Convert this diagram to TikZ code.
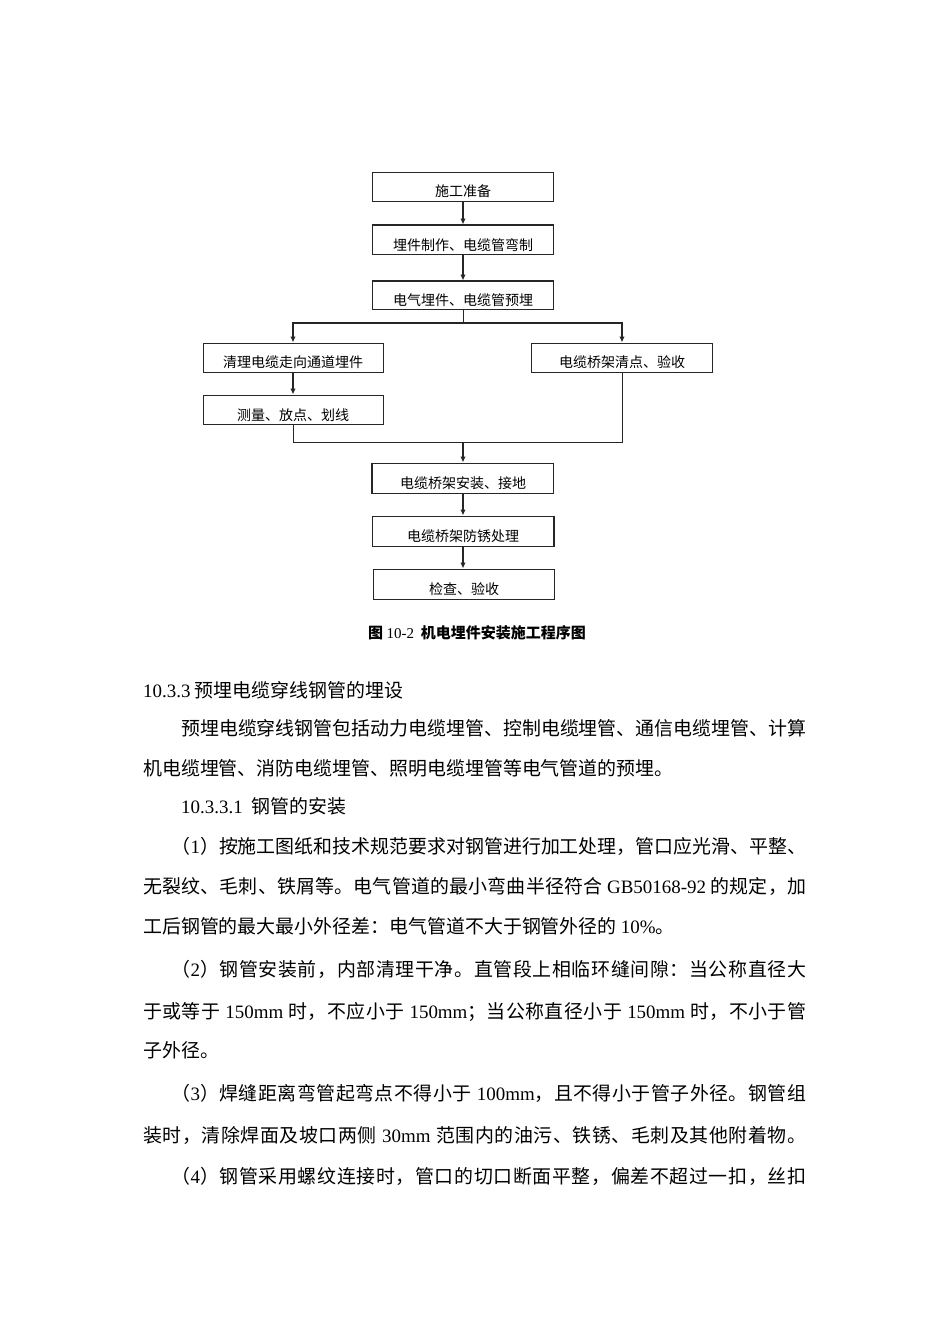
\documentclass[tikz,border=0pt]{standalone}
\usepackage{fontspec}
\setmainfont{Noto Sans CJK SC}
\newfontfamily\lat{Liberation Serif}
\usetikzlibrary{arrows.meta,calc}
\XeTeXinterchartokenstate=1
\newXeTeXintercharclass\cjkcls
\newcount\cjkc
\def\setcjkrange#1#2{\cjkc=#1\relax\loop\XeTeXcharclass\cjkc=\cjkcls\relax\advance\cjkc by 1\relax\ifnum\cjkc<#2\relax\repeat}
\setcjkrange{"3000}{"3040}
\setcjkrange{"4E00}{"A000}
\setcjkrange{"FF00}{"FFF0}
\newcommand\cjkgl{\hskip 0pt plus 1pt minus 0.4pt\relax}
\XeTeXinterchartoks\cjkcls\cjkcls={\cjkgl}
\begin{document}
\begin{tikzpicture}[x=1pt,y=-1pt,
  box/.style={draw=black!85, line width=1pt, minimum width=181pt, minimum height=29pt, inner sep=0pt},
  btxt/.style={font=\fontsize{14}{15}\selectfont, inner sep=0pt, anchor=base},
  arr/.style={draw=black!85, line width=1.4pt, -{Latex[length=6pt,width=5.5pt]}},
  ln/.style={draw=black!85, line width=1pt},
  thk/.style={draw=black!85, line width=2pt},
  body/.style={font=\fontsize{18.94}{20}\selectfont, inner sep=0pt, anchor=base west},
  captxt/.style={font=\fontsize{15}{16}\selectfont\bfseries, inner sep=0pt}]
\useasboundingbox (0,0) rectangle (950,1344);
\fill[white] (0,0) rectangle (950,1344);

% ---------- flowchart ----------
\node[box] (b1) at (463,186.5) {};
\node[btxt] (t1) at ([yshift=5pt]b1.south) {施工准备};
\node[box] (b2) at (463,239.5) {};
\node[btxt] (t2) at ([yshift=4pt]b2.south) {埋件制作、电缆管弯制};
\node[box, minimum height=28pt] (b3) at (463,295) {};
\node[btxt] (t3) at ([yshift=4pt]b3.south) {电气埋件、电缆管预埋};
\node[box, minimum width=180pt] (b4) at (293,357.5) {};
\node[btxt] (t4) at ([yshift=5pt]b4.south) {清理电缆走向通道埋件};
\node[box] (b5) at (622,357.5) {};
\node[btxt] (t5) at ([yshift=5pt]b5.south) {电缆桥架清点、验收};
\node[box, minimum width=180pt] (b6) at (293,409.5) {};
\node[btxt] (t6) at ([yshift=4pt]b6.south) {测量、放点、划线};
\node[box, minimum height=30pt] (b7) at (463,478) {};
\node[btxt] (t7) at ([yshift=5pt]b7.south) {电缆桥架安装、接地};
\node[box, minimum height=30pt] (b8) at (463,531) {};
\node[btxt] (t8) at ([yshift=5pt]b8.south) {电缆桥架防锈处理};
\node[box, minimum height=30pt] (b9) at (464,584) {};
\node[btxt] (t9) at ([yshift=5pt]b9.south) {检查、验收};

% heavier edges as in the scan
\draw[thk] (b2.north west) -- (b2.north east);
\draw[thk] (b3.north west) -- (b3.north east);
\draw[thk] (b7.north west) -- (b7.south west);
\draw[thk] (b8.north east) -- (b8.south east);

\coordinate (br) at (463,323);
\coordinate (mg) at (463,442);

\draw[arr] (b1.south) -- (b2.north);
\draw[arr] (b2.south) -- (b3.north);
\draw[ln] (b3.south) -- (br);
\draw[arr] (br) -| (b4.north);
\draw[arr] (br) -| (b5.north);
\draw[arr] (b4.south) -- (b6.north);
\draw[ln] (b6.south) |- (mg);
\draw[ln] (b5.south) |- (mg);
\draw[arr] (mg) -- (b7.north);
\draw[arr] (b7.south) -- (b7.south |- b8.north);
\draw[arr] (b8.south) -- (b8.south |- b9.north);

\node[captxt] (cp) at (477,633) {图 {\lat\mdseries 10-2}\ \ 机电埋件安装施工程序图};

% ---------- body text ----------
\node[body] (l1) at (143,697) {{\lat 10.3.3} 预埋电缆穿线钢管的埋设};
\node[body] (l2) at (181,735) {\makebox[625pt][s]{预埋电缆穿线钢管包括动力电缆埋管、控制电缆埋管、通信电缆埋管、计算}};
\node[body] (l3) at (143,775) {机电缆埋管、消防电缆埋管、照明电缆埋管等电气管道的预埋。};
\node[body] (l4) at (181,813) {{\lat 10.3.3.1}\ \ 钢管的安装};
\node[body] (l5) at (171.5,853) {\makebox[634.5pt][s]{（{\lat 1}）按施工图纸和技术规范要求对钢管进行加工处理，管口应光滑、平整、}};
\node[body] (l6) at (143,893) {\makebox[663pt][s]{无裂纹、毛刺、铁屑等。电气管道的最小弯曲半径符合 {\lat GB50168-92} 的规定，加}};
\node[body] (l7) at (143,933) {工后钢管的最大最小外径差：电气管道不大于钢管外径的 {\lat 10\%}。};
\node[body] (l8) at (171.5,976) {\makebox[634.5pt][s]{（{\lat 2}）钢管安装前，内部清理干净。直管段上相临环缝间隙：当公称直径大}};
\node[body] (l9) at (143,1018) {\makebox[663pt][s]{于或等于 {\lat 150mm} 时，不应小于 {\lat 150mm}；当公称直径小于 {\lat 150mm} 时，不小于管}};
\node[body] (l10) at (143,1057) {子外径。};
\node[body] (l11) at (171.5,1100) {\makebox[634.5pt][s]{（{\lat 3}）焊缝距离弯管起弯点不得小于 {\lat 100mm}，且不得小于管子外径。钢管组}};
\node[body] (l12) at (143,1142) {\makebox[663pt][s]{装时，清除焊面及坡口两侧 {\lat 30mm} 范围内的油污、铁锈、毛刺及其他附着物。}};
\node[body] (l13) at (171.5,1183) {\makebox[634.5pt][s]{（{\lat 4}）钢管采用螺纹连接时，管口的切口断面平整，偏差不超过一扣，丝扣}};
\end{tikzpicture}
\end{document}
